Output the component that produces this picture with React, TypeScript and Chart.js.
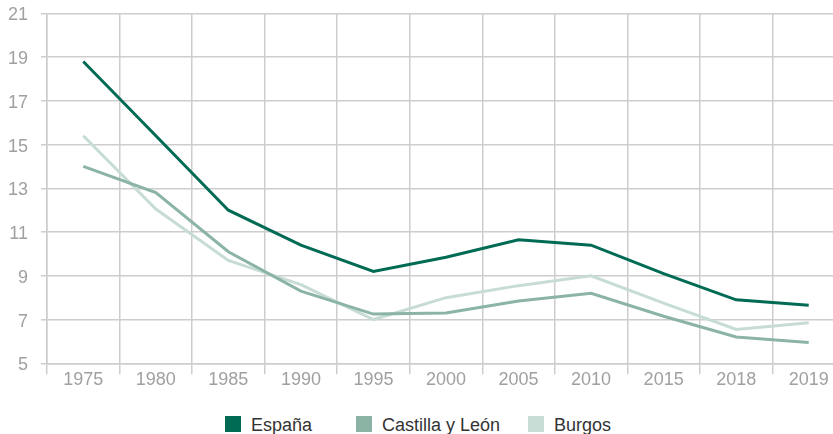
import React, { useEffect, useRef } from "react";
import { Chart, registerables } from "chart.js";

Chart.register(...registerables);

const categories = ["1975", "1980", "1985", "1990", "1995", "2000", "2005", "2010", "2015", "2018", "2019"];
const espana = [18.8, 15.4, 12.0, 10.4, 9.2, 9.85, 10.65, 10.4, 9.1, 7.9, 7.65];
const castilla = [14.0, 12.8, 10.1, 8.3, 7.25, 7.3, 7.85, 8.2, 7.15, 6.2, 5.95];
const burgos = [15.4, 12.05, 9.7, 8.6, 7.0, 8.0, 8.55, 9.0, 7.75, 6.55, 6.85];
const seriesNames = ["España", "Castilla y León", "Burgos"];
const seriesColors = ["#006b54", "#8bb4a5", "#c6dcd4"];
const yMin = 5;
const yMax = 21;
const yStep = 2;

const FONT = "'Liberation Sans', Arial, Helvetica, sans-serif";

export default function App() {
  const ref = useRef<HTMLCanvasElement | null>(null);

  useEffect(() => {
    if (!ref.current) return;
    const seriesData = [espana, castilla, burgos];
    const chart = new Chart(ref.current, {
      type: "line",
      data: {
        labels: categories,
        datasets: seriesNames.map((name, i) => ({
          label: name,
          data: seriesData[i],
          borderColor: seriesColors[i],
          backgroundColor: seriesColors[i],
          borderWidth: 3,
          pointRadius: 0,
          pointHoverRadius: 0,
          tension: 0,
          fill: false,
        })),
      },
      options: {
        responsive: false,
        animation: false,
        devicePixelRatio: 1,
        layout: { padding: { top: 13.3, left: 0, right: 0, bottom: 0 } },
        plugins: {
          legend: { display: false },
          tooltip: { enabled: false },
        },
        scales: {
          x: {
            type: "category",
            offset: true,
            grid: {
              offset: true,
              color: "#cdcdcd",
              lineWidth: 1.5,
              tickLength: 11,
              drawTicks: true,
            },
            border: { color: "#cdcdcd", width: 1.5 },
            ticks: {
              color: "#a0a0a0",
              font: { family: FONT, size: 18 },
              padding: -5,
              maxRotation: 0,
              autoSkip: false,
            },
            afterFit: (scale: any) => {
              scale.height = 31.7;
              scale.paddingLeft = 0;
              scale.paddingRight = 0;
            },
          },
          y: {
            min: yMin,
            max: yMax,
            grid: {
              color: "#cdcdcd",
              lineWidth: 1.5,
              tickLength: 6,
            },
            border: { color: "#cdcdcd", width: 1.5 },
            ticks: {
              stepSize: yStep,
              color: "#a0a0a0",
              font: { family: FONT, size: 18 },
              padding: 13,
              labelOffset: 2,
            },
            afterFit: (scale: any) => {
              scale.width = 47;
              scale.paddingTop = 0;
              scale.paddingBottom = 0;
            },
          },
        },
      },
    });
    return () => chart.destroy();
  }, []);

  const legendX = [225, 356, 528];
  return (
    <div
      style={{
        position: "absolute",
        left: 0,
        top: 0,
        width: 833,
        height: 434,
        overflow: "hidden",
        background: "#ffffff",
      }}
    >
      <canvas ref={ref} width={845} height={395} style={{ display: "block", position: "absolute", left: 0, top: 0 }} />
      {seriesNames.map((name, i) => (
        <div
          key={name}
          style={{
            position: "absolute",
            left: legendX[i],
            top: 415,
            height: 18,
            display: "flex",
            alignItems: "flex-start",
            whiteSpace: "nowrap",
          }}
        >
          <span
            style={{
              display: "inline-block",
              width: 16,
              height: 16,
              marginTop: 0.5,
              background: seriesColors[i],
              marginRight: 10,
            }}
          />
          <span
            style={{
              fontFamily: FONT,
              fontSize: 18,
              lineHeight: "18px",
              color: "#333333",
              marginTop: 1,
            }}
          >
            {name}
          </span>
        </div>
      ))}
    </div>
  );
}
